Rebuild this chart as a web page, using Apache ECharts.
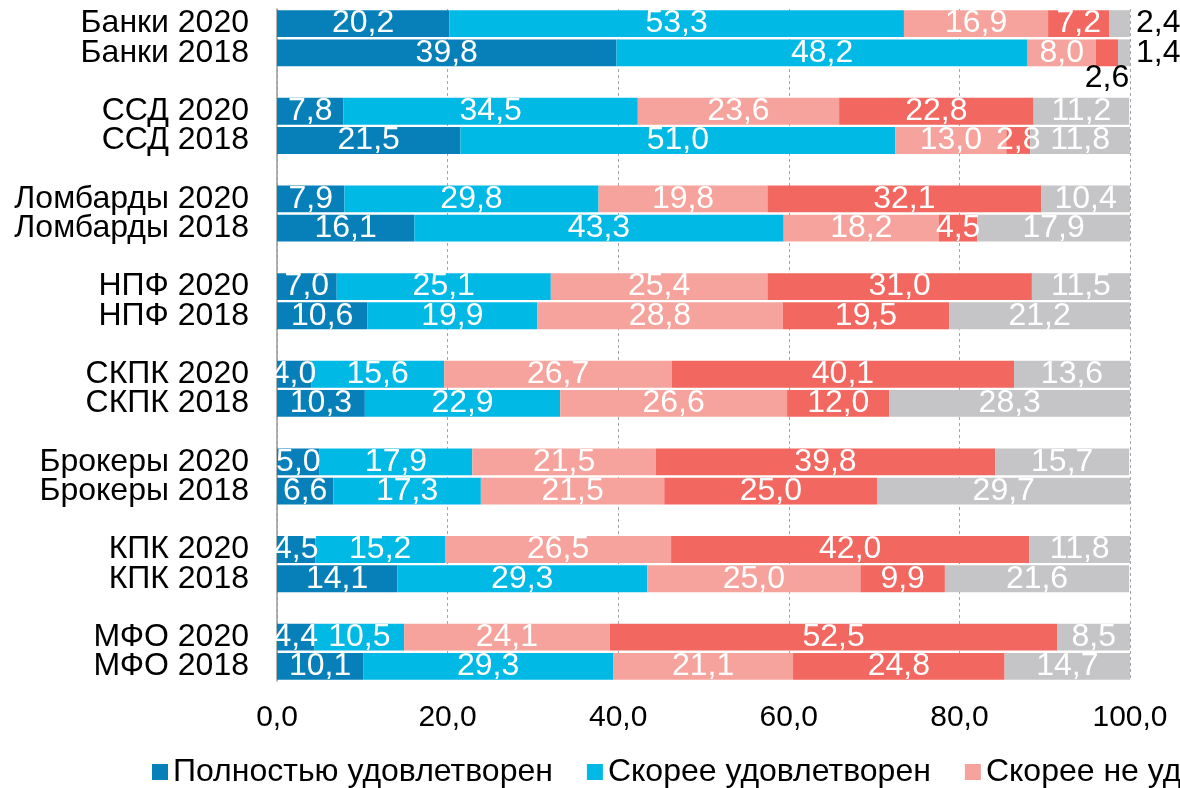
<!DOCTYPE html>
<html>
<head>
<meta charset="utf-8">
<script src="https://cdn.jsdelivr.net/npm/echarts@6/dist/echarts.min.js"></script>
<style>
html, body { margin: 0; padding: 0; background: #fff; }
#chart { width: 1180px; height: 788px; }
</style>
</head>
<body>
<div id="chart"></div>
<script>
// строки по группам (2020 / 2018)
const rowNames = [
  'Банки 2020', 'Банки 2018',
  'ССД 2020', 'ССД 2018',
  'Ломбарды 2020', 'Ломбарды 2018',
  'НПФ 2020', 'НПФ 2018',
  'СКПК 2020', 'СКПК 2018',
  'Брокеры 2020', 'Брокеры 2018',
  'КПК 2020', 'КПК 2018',
  'МФО 2020', 'МФО 2018'
]
const seriesNames = [
  'Полностью удовлетворен',
  'Скорее удовлетворен',
  'Скорее не удовлетворен',
  'Полностью не удовлетворен',
  'Затрудняюсь ответить'
]
const fullySat  = [20.2, 39.8, 7.8, 21.5, 7.9, 16.1, 7.0, 10.6, 4.0, 10.3, 5.0, 6.6, 4.5, 14.1, 4.4, 10.1]
const ratherSat = [53.3, 48.2, 34.5, 51.0, 29.8, 43.3, 25.1, 19.9, 15.6, 22.9, 17.9, 17.3, 15.2, 29.3, 10.5, 29.3]
const ratherNot = [16.9, 8.0, 23.6, 13.0, 19.8, 18.2, 25.4, 28.8, 26.7, 26.6, 21.5, 21.5, 26.5, 25.0, 24.1, 21.1]
const notSat    = [7.2, 2.6, 22.8, 2.8, 32.1, 4.5, 31.0, 19.5, 40.1, 12.0, 39.8, 25.0, 42.0, 9.9, 52.5, 24.8]
const hardSay   = [2.4, 1.4, 11.2, 11.8, 10.4, 17.9, 11.5, 21.2, 13.6, 28.3, 15.7, 29.7, 11.8, 21.6, 8.5, 14.7]
const xTicks = [0, 20, 40, 60, 80, 100]

const colors = ['#0780b9', '#00b9e5', '#f5a39c', '#f2675f', '#c5c5c7']
const FONT = '"Liberation Sans", Arial, sans-serif'
const fmt = v => Number(v).toFixed(1).replace('.', ',')

// подписи мелких сегментов вне столбца: [серия, строка, позиция]
const outside = [[4, 0, 'right'], [4, 1, 'right'], [3, 1, 'bottom']]

// вставляем пустые строки между группами
const cats = []
const rowIndex = []
rowNames.forEach((n, i) => {
  if (i > 0 && i % 2 === 0) cats.push(' '.repeat(i / 2))
  rowIndex.push(cats.length)
  cats.push(n)
})

const allValues = [fullySat, ratherSat, ratherNot, notSat, hardSay]
const series = allValues.map((vals, s) => {
  const data = cats.map(() => '-')
  vals.forEach((v, i) => {
    const o = outside.find(x => x[0] === s && x[1] === i)
    data[rowIndex[i]] = o
      ? { value: v, label: { position: o[2], color: '#000', distance: o[2] === 'right' ? 6 : -4 } }
      : v
  })
  return {
    name: seriesNames[s],
    type: 'bar',
    stack: 'total',
    barCategoryGap: '8%',
    itemStyle: { color: colors[s] },
    label: {
      show: true,
      position: 'inside',
      color: '#fff',
      fontFamily: FONT,
      fontSize: 32,
      formatter: p => fmt(p.value)
    },
    data: data
  }
})

let myChart = echarts.init(document.getElementById('chart'))
myChart.setOption({
  animation: false,
  grid: { left: 277, right: 50, top: 9, height: 672, containLabel: false },
  legend: {
    left: 147,
    top: 751,
    width: 4000,
    itemWidth: 16,
    itemHeight: 16,
    itemGap: 34,
    icon: 'rect',
    data: seriesNames,
    textStyle: { fontFamily: FONT, fontSize: 32, color: '#000' }
  },
  xAxis: {
    type: 'value',
    min: xTicks[0],
    max: xTicks[xTicks.length - 1],
    interval: xTicks[1] - xTicks[0],
    axisLine: { show: false },
    axisTick: { show: false },
    splitLine: { show: true, lineStyle: { color: '#a6a6a6', type: [3, 3], width: 1 } },
    axisLabel: {
      fontFamily: FONT,
      fontSize: 30,
      color: '#000',
      margin: 22,
      formatter: v => fmt(v)
    }
  },
  yAxis: {
    type: 'category',
    inverse: true,
    data: cats,
    axisLine: { show: true, lineStyle: { color: '#9a9a9a', width: 1.5 } },
    axisTick: { show: false },
    axisLabel: { interval: 0, fontFamily: FONT, fontSize: 32, color: '#000', margin: 28 }
  },
  series: series
})
</script>
</body>
</html>
